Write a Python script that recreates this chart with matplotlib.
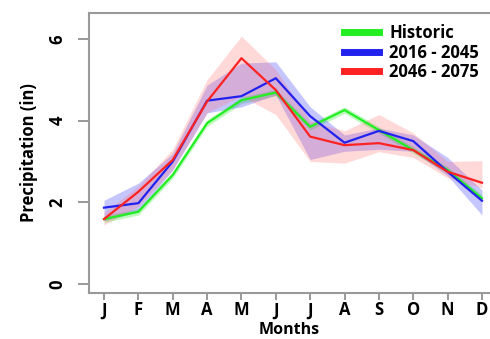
import matplotlib
matplotlib.use("Agg")
import matplotlib.pyplot as plt

months = ["J", "F", "M", "A", "M", "J", "J", "A", "S", "O", "N", "D"]
x = list(range(1, 13))

historic = [1.59, 1.77, 2.67, 3.94, 4.50, 4.69, 3.85, 4.26, 3.77, 3.28, 2.79, 2.10]
historic_lo = [1.51, 1.69, 2.59, 3.86, 4.42, 4.61, 3.77, 4.18, 3.69, 3.20, 2.71, 2.02]
historic_hi = [1.67, 1.85, 2.75, 4.02, 4.58, 4.77, 3.93, 4.34, 3.85, 3.36, 2.87, 2.18]

near = [1.87, 1.98, 3.00, 4.49, 4.60, 5.04, 4.11, 3.46, 3.75, 3.50, 2.75, 2.04]
near_lo = [1.55, 1.77, 2.80, 4.19, 4.34, 4.63, 3.05, 3.25, 3.30, 3.25, 2.65, 1.69]
near_hi = [2.05, 2.47, 3.20, 4.87, 5.41, 5.44, 4.34, 3.65, 3.82, 3.65, 3.10, 2.30]

far = [1.59, 2.26, 3.04, 4.47, 5.53, 4.75, 3.61, 3.40, 3.45, 3.28, 2.75, 2.48]
far_lo = [1.45, 1.90, 2.80, 4.20, 4.60, 4.15, 3.00, 2.96, 3.24, 3.10, 2.60, 2.35]
far_hi = [1.75, 2.40, 3.30, 5.00, 6.07, 5.25, 4.00, 3.75, 4.15, 3.70, 3.00, 3.02]

labels = ["Historic", "2016 - 2045", "2046 - 2075"]
colors = ["#22ee22", "#2222ee", "#ff2222"]

plt.rcParams['font.family'] = ['Open Sans', 'DejaVu Sans']
FS = 12

fig = plt.figure(figsize=(4.9, 3.39), dpi=100)
ax = fig.add_axes([89/490, 46/339, 401/490, 280/339])

bands = [(historic_lo, historic_hi, "#44ee44", 0.35),
         (near_lo, near_hi, "#3333ff", 0.28),
         (far_lo, far_hi, "#ff6666", 0.25)]
for lo, hi, c, a in bands:
    ax.fill_between(x, lo, hi, color=c, alpha=a, linewidth=0)

for series, c, lab in zip([historic, near, far], colors, labels):
    ax.plot(x, series, color=c, linewidth=1.6, label=lab)

ax.set_xlim(0.563, 12.234)
ax.set_ylim(-0.22, 6.637)
ax.set_xticks(x)
ax.set_xticklabels(months, fontweight='bold', fontsize=FS)
ax.set_yticks([0, 2, 4, 6])
ax.set_yticklabels(["0", "2", "4", "6"], fontweight='bold', fontsize=FS,
                   rotation=90, va='center')
ax.tick_params(axis='x', length=5, width=1.2, color='#888888', pad=1)
ax.tick_params(axis='y', length=8, width=1.2, color='#888888', pad=8)

for s in ['left', 'bottom', 'top']:
    ax.spines[s].set_color('#999999')
    ax.spines[s].set_linewidth(1.5)
ax.spines['right'].set_visible(False)

ax.set_xlabel("Months", fontweight='bold', fontsize=11.5, va='center')
ax.xaxis.set_label_coords(0.5, -0.132)
ax.set_ylabel("Precipitation (in)", fontweight='bold', fontsize=FS, labelpad=8)

leg = ax.legend(loc='upper right', bbox_to_anchor=(1.0, 1.0), frameon=False,
                fontsize=FS, handlelength=2.1, handletextpad=0.6,
                labelspacing=0.1, borderaxespad=0.25)
for h in leg.get_lines():
    h.set_linewidth(5)
for t in leg.get_texts():
    t.set_fontweight('bold')

fig.savefig("out.png", dpi=100)
